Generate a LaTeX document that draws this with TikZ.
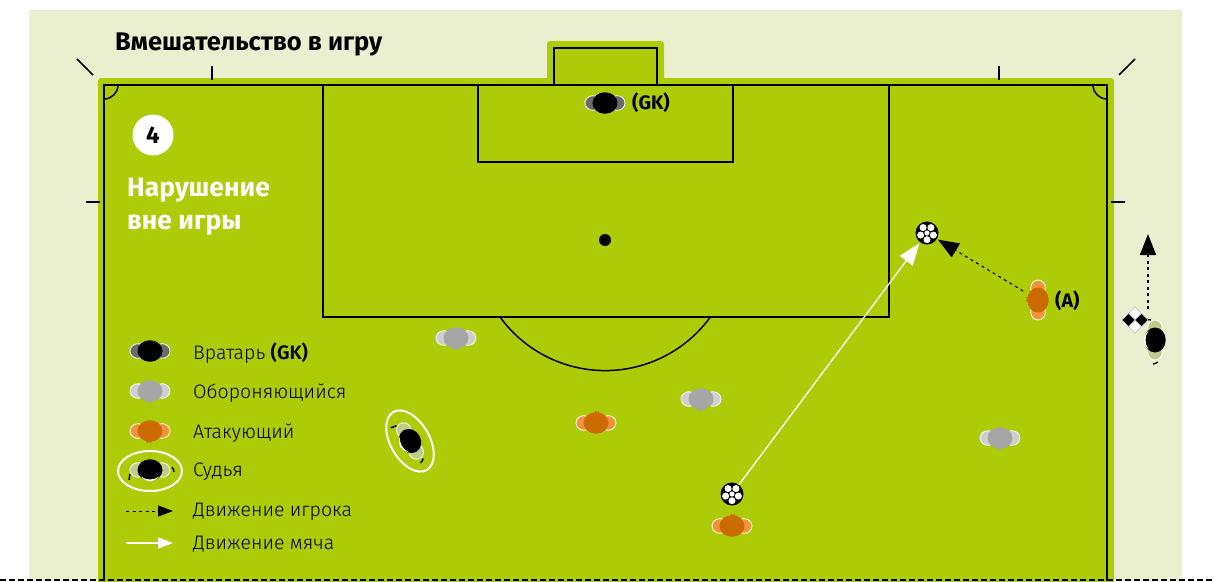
\documentclass[tikz,border=0pt]{standalone}
\usepackage{fontspec}
\setmainfont{Fira Sans}
\usepackage{xcolor}
\usetikzlibrary{positioning, shapes.geometric, arrows.meta, calc}
\definecolor{panelbg}{HTML}{EAEFD0}
\definecolor{pitch}{HTML}{AECB08}
\definecolor{gkbody}{HTML}{000000}
\definecolor{gkarm}{HTML}{6A6A6A}
\definecolor{defbody}{HTML}{A6A6A6}
\definecolor{defarm}{HTML}{CFCFCF}
\definecolor{atkbody}{HTML}{CC6C00}
\definecolor{atkarm}{HTML}{F0933A}
\definecolor{refarm}{HTML}{C0CC8C}

% name, position, rotation, body colour, arm colour
\newcommand{\player}[5]{
  \begin{scope}[shift={(#2)},rotate=#3]
    \foreach \sgn in {-1,1}
      {\draw[white, fill=#5, line width=0.8pt] (\sgn*12,0) ellipse [x radius=8, y radius=7.3];}
  \end{scope}
  \node[plbody, fill=#4, rotate=#3](#1) at (#2) {};
}
% small tuft at the back of an outfield player
\newcommand{\tuft}[3]{
  \begin{scope}[shift={(#1)},rotate=#2]
    \fill[#3] (-4,8) -- (-2.5,12.5) -- (-1,10) -- (0.5,12.5) -- (2,10) -- (4,8) -- cycle;
  \end{scope}
}
% white collar and black hands of a referee
\newcommand{\refmarks}[2]{
  \begin{scope}[shift={(#1)},rotate=#2]
    \fill[white] (-9,6.5) .. controls (-4,13) and (4,13) .. (9,6.5) .. controls (4,10.5) and (-4,10.5) .. (-9,6.5) -- cycle;
    \draw[black, line width=1.4pt] (-20,4) -- (-21,10);
    \draw[black, line width=1.4pt] (24,2) arc [start angle=0, end angle=-50, radius=6];
  \end{scope}
}
\newcommand{\ball}[2]{
  \node[ballnode](#1) at (#2) {};
  \fill[white] (#2) circle (2.6);
  \foreach \ang in {90,162,234,306,18}
    {\fill[white] ($(#2)+(\ang:6.7)$) circle (3.5);}
}

\begin{document}
\begin{tikzpicture}[
  x=1pt, y=-1pt,
  font=\fontsize{19.5pt}{21pt}\selectfont,
  plbody/.style={ellipse, inner sep=0pt, minimum width=25pt, minimum height=21.5pt},
  ballnode/.style={circle, fill=black, inner sep=0pt, minimum size=23pt},
  ln/.style={line width=1.5pt, draw=black},
  edgeln/.style={line width=2pt, draw=black},
  tick/.style={line width=1.5pt, draw=black},
  heading/.style={font=\fontsize{26.5pt}{33pt}\selectfont\bfseries, text=white, align=left, anchor=north west, inner sep=0pt},
  lbl/.style={anchor=west, inner sep=0pt, font=\fontsize{19.5pt}{21pt}\selectfont\bfseries},
  leg/.style={anchor=west, inner sep=0pt, font=\fontsize{19.5pt}{21pt}\selectfont\fontspec{Fira Sans Light}},
  ringed/.style={draw=white, line width=2pt},
  arrplayer/.style={-{Triangle[length=21pt,width=16pt]}, dash pattern=on 3pt off 3.5pt, line width=1.1pt, black},
  arrball/.style={-{Triangle[length=22pt,width=16pt]}, white, line width=1.3pt},
  legtip/.style={-{Triangle[length=15pt,width=11pt]}}]
\useasboundingbox (0,0) rectangle (1215,581);

% ground
\fill[panelbg] (29,10) rectangle (1182,581);
\fill[pitch, rounded corners=3pt] (98,78) rectangle (1114,595);
\fill[pitch, rounded corners=3pt] (547,41) rectangle (664,95);

% markings
\draw[edgeln] (104,581) -- (104,85) -- (1107,85) -- (1107,581);
\draw[ln] (554,85) -- (554,48) -- (657,48) -- (657,85);
\draw[ln] (323,85) -- (323,317) -- (889,317) -- (889,85);
\draw[ln] (478,85) -- (478,162) -- (733,162) -- (733,85);
\draw[ln] (500,317) arc [start angle=-144, end angle=-36, x radius=130, y radius=-130];
\draw[ln] (104,99) arc [start angle=-90, end angle=0, x radius=14, y radius=-14];
\draw[ln] (1093,85) arc [start angle=180, end angle=270, x radius=14, y radius=-14];
\node[circle, fill=black, inner sep=0pt, minimum size=12pt](spot) at (605,240) {};
\foreach \xa/\ya/\xb/\yb in {212/66/212/80, 999/66/999/80, 86/202/100/202, 1111/202/1125/202, 77/59/93/75, 1119/75/1135/59}
  {\draw[tick] (\xa,\ya) -- (\xb,\yb);}
\draw[black, line width=2.5pt, dash pattern=on 6pt off 3pt] (0,580) -- (1215,580);

% headings
\node[anchor=base west, inner sep=0pt, font=\fontsize{25.5pt}{28pt}\selectfont\bfseries](title) at (115,50) {Вмешательство в игру};
\node[circle, fill=white, inner sep=0pt, minimum size=41pt, font=\fontsize{24pt}{26pt}\selectfont\bfseries](num) at (153,135) {4};
\node[heading](offside) at (127,178) {Нарушение\\вне игры};

% referee rings go under the players
\node[ringed, ellipse, minimum width=64pt, minimum height=40pt, inner sep=0pt](legring) at (150,471) {};
\node[ringed, ellipse, minimum width=67pt, minimum height=39pt, inner sep=0pt, rotate=-60](refring) at (410,441) {};

% players
\foreach \pos/\rot/\bd in {
  {456,338}/0/defbody, {701,399}/0/defbody, {1000,438}/0/defbody, {150,391}/0/defbody,
  {1038,300}/-90/atkbody, {596,423}/180/atkbody, {732,526}/180/atkbody, {150,431}/0/atkbody}
  {\tuft{\pos}{\rot}{\bd}}
\foreach \nm/\pos/\rot/\bd/\arm in {
  gk/{605,103}/0/gkbody/gkarm, leggk/{150,351}/0/gkbody/gkarm,
  defa/{456,338}/0/defbody/defarm, defb/{701,399}/0/defbody/defarm, defc/{1000,438}/0/defbody/defarm, legdef/{150,391}/0/defbody/defarm,
  atka/{1038,300}/-90/atkbody/atkarm, atkb/{596,423}/180/atkbody/atkarm, atkc/{732,526}/180/atkbody/atkarm, legatk/{150,431}/0/atkbody/atkarm}
  {\player{\nm}{\pos}{\rot}{\bd}{\arm}}
\foreach \nm/\pos/\rot/\bd/\arm in {
  ref/{410,441}/-60/gkbody/refarm, legref/{150,470}/0/gkbody/refarm, asst/{1155,340}/-90/gkbody/refarm}
  {\player{\nm}{\pos}{\rot}{\bd}{\arm}}
\foreach \pos/\rot in {{410,441}/-60, {150,470}/0, {1155,340}/-90}
  {\refmarks{\pos}{\rot}}

% balls
\ball{balla}{732,494}
\ball{ballb}{927,233}

% assistant's flag
\foreach \dx/\dy/\col in {0/-6.5/white, 0/6.5/white, -6.5/0/black, 6.5/0/black}
  {\draw[draw=gray!50, line width=0.4pt, fill=\col] (1135+\dx,320+\dy-6.5) -- ++(6.5,6.5) -- ++(-6.5,6.5) -- ++(-6.5,-6.5) -- cycle;}

% movement
\coordinate (asstgo) at (1148,234);
\coordinate (asstfrom) at (1148,309);
\draw[arrball, shorten >=1pt] (balla) -- (ballb);
\draw[arrplayer, shorten >=1pt, shorten <=6pt] (atka) -- (ballb);
\draw[arrplayer, line width=1.5pt] (asstfrom) -- (asstgo);

% labels
\node[lbl](gklbl) at (632,103) {(GK)};
\node[lbl](alb) at (1055,301) {(A)};

% legend
\node[leg](tgk) at (193,353) {Вратарь \textbf{(GK)}};
\node[leg](tdef) at (193,393) {Обороняющийся};
\node[leg](tatk) at (193,433) {Атакующий};
\node[leg](tref) at (193,472) {Судья};
\node[leg](tplay) at (193,512) {Движение игрока};
\node[leg](tball) at (193,544) {Движение мяча};
\coordinate (legpa) at (126,511);
\coordinate (legpb) at (173,511);
\coordinate (legba) at (126,543);
\coordinate (legbb) at (173,543);
\draw[arrplayer, legtip, line width=0.8pt] (legpa) -- (legpb);
\draw[arrball, legtip] (legba) -- (legbb);

\end{tikzpicture}
\end{document}
